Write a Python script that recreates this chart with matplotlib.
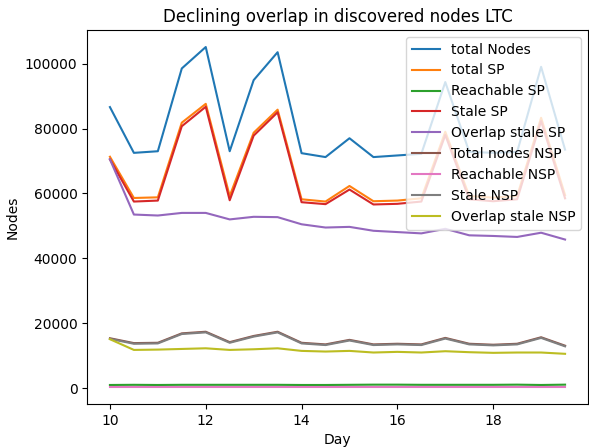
import matplotlib
matplotlib.use('Agg')
import matplotlib.pyplot as plt

# ngày (bước 0.5)
days = [10 + 0.5 * i for i in range(20)]

total_nodes = [86600, 72500, 73000, 98500, 105100, 73000, 94900, 103500, 72400, 71200,
               77000, 71200, 71700, 72200, 94300, 72800, 72500, 72800, 99000, 73500]
total_sp = [71300, 58600, 58800, 81800, 87600, 59200, 78700, 85800, 58200, 57500,
            62300, 57600, 57800, 58500, 79000, 59200, 58700, 59200, 83300, 59500]
reachable_sp = [1000, 1050, 1000, 1050, 1050, 1050, 1050, 1050, 1000, 1000,
                1050, 1100, 1100, 1050, 1050, 1050, 1050, 1100, 1000, 1100]
stale_sp = [70500, 57500, 57800, 80700, 86700, 57900, 77800, 85000, 57300, 56700,
            61200, 56600, 56800, 57500, 78000, 58200, 57600, 58200, 82300, 58500]
overlap_stale_sp = [70500, 53500, 53200, 54000, 54000, 52000, 52800, 52700, 50500, 49500,
                    49700, 48500, 48100, 47700, 49100, 47100, 46900, 46600, 47900, 45800]
total_nsp = [15400, 13900, 14000, 16900, 17400, 14200, 16100, 17400, 14000, 13500,
             14900, 13500, 13700, 13500, 15500, 13700, 13400, 13700, 15700, 13100]
reachable_nsp = [350, 350, 350, 350, 350, 350, 350, 350, 350, 350,
                 350, 350, 350, 350, 350, 350, 350, 350, 350, 350]
stale_nsp = [15200, 13700, 13800, 16700, 17200, 14000, 15900, 17200, 13800, 13300,
             14700, 13300, 13500, 13300, 15300, 13500, 13200, 13500, 15500, 12900]
overlap_stale_nsp = [15100, 11800, 11900, 12100, 12300, 11800, 12000, 12300, 11500, 11300,
                     11500, 11000, 11200, 11000, 11400, 11100, 10900, 11000, 11000, 10600]

series = [
    (total_nodes, 'total Nodes'),
    (total_sp, 'total SP'),
    (reachable_sp, 'Reachable SP'),
    (stale_sp, 'Stale SP'),
    (overlap_stale_sp, 'Overlap stale SP'),
    (total_nsp, 'Total nodes NSP'),
    (reachable_nsp, 'Reachable NSP'),
    (stale_nsp, 'Stale NSP'),
    (overlap_stale_nsp, 'Overlap stale NSP'),
]

fig = plt.figure(figsize=(5.89, 4.48), dpi=100)
ax = fig.add_subplot(111)
for values, name in series:
    ax.plot(days, values, label=name)

ax.set_title('Declining overlap in discovered nodes LTC')
ax.set_xlabel('Day')
ax.set_ylabel('Nodes')
ax.set_xticks([10, 12, 14, 16, 18])
ax.legend(loc='upper right')

plt.subplots_adjust(left=0.148, right=0.998, top=0.933, bottom=0.098)
plt.savefig('out.png', dpi=100)
